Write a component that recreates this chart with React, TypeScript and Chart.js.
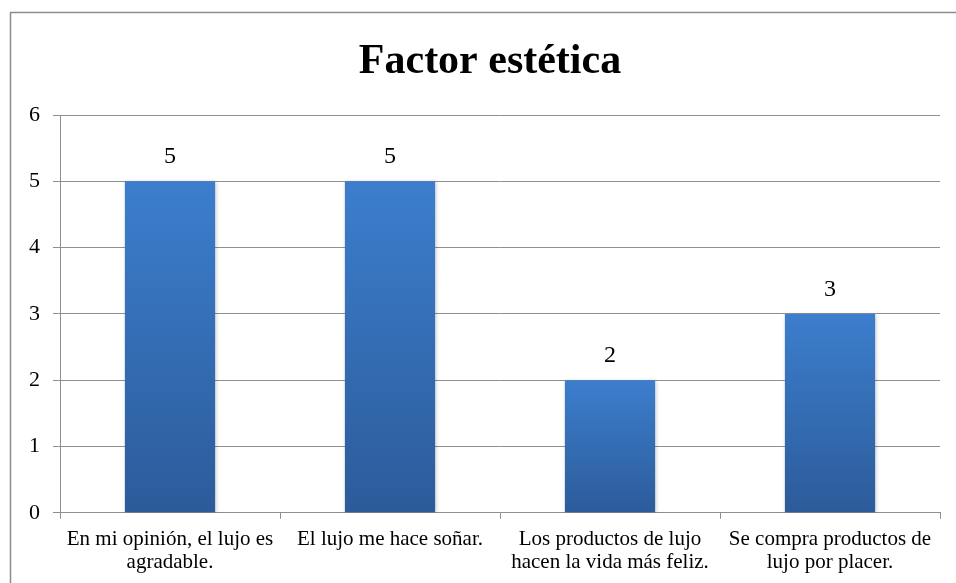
import React, { useEffect, useRef } from "react";
import { Chart, registerables } from "chart.js";

Chart.register(...registerables);

const titleText = "Factor estética";
const categories: string[][] = [
  ["En mi opinión, el lujo es", "agradable."],
  ["El lujo me hace soñar."],
  ["Los productos de lujo", "hacen la vida más feliz."],
  ["Se compra productos de", "lujo por placer."],
];
const values: number[] = [5, 5, 2, 3];
const yMin = 0;
const yMax = 6;
const yStep = 1;

const FONT = "'Liberation Serif', 'Times New Roman', serif";
const GRID = "#8f8f8f";

export default function App() {
  const ref = useRef<HTMLCanvasElement | null>(null);
  useEffect(() => {
    if (!ref.current) return;
    const framePlugin = {
      id: "frame",
      beforeDraw(chart: any) {
        const ctx = chart.ctx;
        ctx.save();
        ctx.fillStyle = "#ffffff";
        ctx.fillRect(0, 0, chart.width, chart.height);
        ctx.strokeStyle = "#8c8c8c";
        ctx.lineWidth = 1.5;
        ctx.strokeRect(10.5, 12.5, 1000, 1000);
        ctx.fillStyle = "#000";
        ctx.font = `bold 42px ${FONT}`;
        ctx.textAlign = "center";
        ctx.textBaseline = "alphabetic";
        ctx.fillText(titleText, 490, 73);
        ctx.restore();
      },
    };
    const shadowPlugin = {
      id: "barShadow",
      beforeDatasetsDraw(chart: any) {
        const ctx = chart.ctx;
        ctx.save();
        ctx.shadowColor = "rgba(0,0,0,0.22)";
        ctx.shadowBlur = 4;
        ctx.shadowOffsetX = 1;
        ctx.shadowOffsetY = 1;
      },
      afterDatasetsDraw(chart: any) {
        chart.ctx.restore();
      },
    };
    const labelPlugin = {
      id: "valueLabels",
      afterDatasetsDraw(chart: any) {
        const ctx = chart.ctx;
        const meta = chart.getDatasetMeta(0);
        ctx.save();
        ctx.fillStyle = "#000";
        ctx.font = `24px ${FONT}`;
        ctx.textAlign = "center";
        ctx.textBaseline = "alphabetic";
        meta.data.forEach((bar: any, i: number) => {
          ctx.fillText(String(values[i]), bar.x, bar.y - 18);
        });
        ctx.restore();
      },
    };
    const chart = new Chart(ref.current, {
      type: "bar",
      data: {
        labels: categories as any,
        datasets: [
          {
            data: values,
            barPercentage: 0.41,
            categoryPercentage: 1,
            backgroundColor: (c: any) => {
              const ch = c.chart;
              const area = ch.chartArea;
              if (!area || c.parsed == null) return "#3571b8";
              const top = ch.scales.y.getPixelForValue(c.parsed.y);
              const g = ch.ctx.createLinearGradient(0, top, 0, area.bottom);
              g.addColorStop(0, "#3c7ecd");
              g.addColorStop(1, "#2c5b9a");
              return g;
            },
          },
        ],
      },
      options: {
        responsive: false,
        animation: false,
        layout: { padding: { left: 12, right: 16, top: 115, bottom: 0 } },
        plugins: {
          legend: { display: false },
          tooltip: { enabled: false },
          title: { display: false },
        },
        scales: {
          x: {
            grid: {
              drawOnChartArea: false,
              drawTicks: true,
              tickLength: 6,
              color: GRID,
              offset: true,
            },
            border: { display: true, color: GRID },
            ticks: {
              color: "#000",
              font: { family: FONT, size: 21, lineHeight: 1.1 },
              padding: 9,
              maxRotation: 0,
              autoSkip: false,
            },
          },
          y: {
            min: yMin,
            max: yMax,
            afterFit: (s: any) => {
              s.width = 48;
            },
            grid: { color: GRID, tickLength: 7, drawTicks: true },
            border: { display: true, color: GRID },
            ticks: {
              stepSize: yStep,
              color: "#000",
              font: { family: FONT, size: 22 },
              padding: 13,
            },
          },
        },
      },
      plugins: [framePlugin, shadowPlugin, labelPlugin],
    });
    return () => chart.destroy();
  }, []);
  return (
    <div style={{ position: "absolute", left: 0, top: 0, width: 956, height: 583 }}>
      <canvas ref={ref} width={956} height={583} />
    </div>
  );
}
